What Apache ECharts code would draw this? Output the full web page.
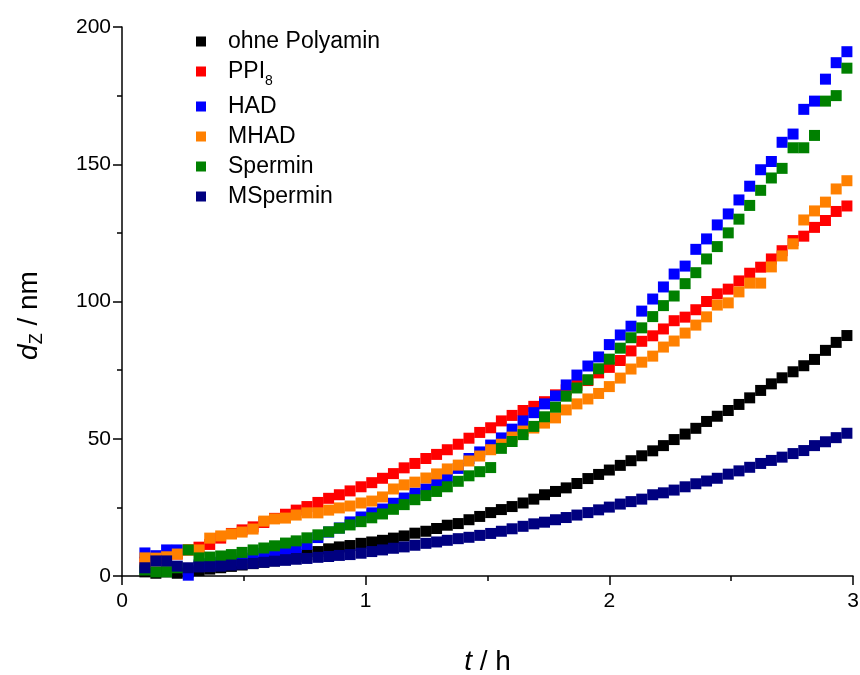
<!DOCTYPE html>
<html><head><meta charset="utf-8">
<script src="https://cdn.jsdelivr.net/npm/echarts@6/dist/echarts.min.js"></script>
<style>html,body{margin:0;padding:0;background:#fff}#c{width:860px;height:675px}</style>
</head><body><div id="c"></div>
<script>
var time = [0.094,0.139,0.183,0.227,0.272,0.316,0.360,0.405,0.449,0.493,0.538,0.582,0.626,0.671,0.715,0.759,0.804,0.848,0.892,0.936,0.981,1.025,1.069,1.114,1.158,1.202,1.247,1.291,1.335,1.380,1.424,1.468,1.513,1.557,1.601,1.646,1.690,1.734,1.779,1.823,1.867,1.912,1.956,2.000,2.045,2.089,2.133,2.178,2.222,2.266,2.311,2.355,2.399,2.443,2.488,2.532,2.576,2.621,2.665,2.709,2.754,2.798,2.842,2.887,2.931,2.975];
var seriesNames = ['ohne Polyamin','PPI8','HAD','MHAD','Spermin','MSpermin'];
var ohnePolyamin = [1.5,1,1.5,1,1.5,2,2.5,3,3.5,4, 4.5,5,5.5,6.2,7,7.8,8.9,9.9,10.6,11.1, 11.9,12.4,13,13.8,14.6,15.6,16.3,17.3,18.5,19.1, 20.5,21.7,23.1,24.2,25.3,26.6,28,29.6,30.8,32.1, 33.7,35.5,37,38.6,40.3,42,43.8,45.6,47.5,49.7, 51.7,53.8,56.3,58.2,60.3,62.5,64.9,67.6,70,72.2, 74.4,76.6,78.9,82.2,85.1,87.6];
var ppi8 = [5,5.5,6.5,8,9.5,10.5,11.5,13.8,15.5,16.8, 17.9,19.5,21,22.5,24,25.3,26.8,28.3,29.6,31, 32.5,34,35.6,37.3,39.4,41,42.8,44.3,46,48, 50.2,52.3,54,56.5,58.5,60.3,61.8,63.5,66,67.8, 69.5,71.2,74,76,78.5,82,85.5,87.5,90,93, 94.3,97,100,102.8,104.5,107.5,110.3,112.5,115.5,118.5, 122.2,123.8,127,129.5,132.8,134.8];
var had = [8.4,7.4,9.5,9.5,0.3,4,4.5,5,5.5,6.5, 7.5,8.3,9,9.8,10.2,11.5,14,16,17.5,19.7, 21.5,23,24.4,26.5,28.4,30.2,31.7,33.9,36,39.2, 42.8,45.2,47.7,50.3,53.5,56.5,59.5,62.7,65.6,69.6, 73.2,76.5,79.8,84.3,87.8,91,96.5,100.9,105.3,110, 112.9,119,122.8,127.9,131.9,137,142,148,151,158, 161,170,173,181,187,191];
var mhad = [6.6,6.5,7,8,9.5,9.5,13.8,14.6,15.3,16, 17.1,20,20.8,21.1,22.2,23,23,24,24.8,25.5, 26.6,27.3,28.8,31.7,33.2,34.2,35.7,37.2,39,40.4, 41.9,43.7,46,48,50.6,52.8,53.9,55.7,57.6,60.5, 62.7,64.5,66.5,69,72.1,75.4,77.9,80.1,83.4,85.6, 88.5,91.4,94.4,98.7,99.5,103.5,106.7,106.7,112.6,116.6, 121,129.7,133,136.2,141,144];
var spermin = [2.2,1.5,1.5,3,9.5,6.6,6.9,7.3,7.8,8.6, 9.5,10.2,11,12,12.8,13.9,15,16.1,17.4,18.6, 19.8,21.2,22.6,24.3,26,27.8,29.3,30.8,32.5,34.5, 36.5,38,39.5,46.5,49,51.5,54.5,58,61.5,65.5, 68.5,71.5,75.5,79,83,86.8,90.4,94.5,98.5,102, 106.5,110.5,115.5,120,125,130,135,140.5,145,148.5, 156,156,160.5,173,175,185];
var mspermin = [3,5.5,5.5,3.6,3,3.3,3.4,3.6,4,4.3, 4.6,5,5.4,5.7,6.1,6.4,6.8,7.1,7.5,7.8, 8.3,8.9,9.5,10.1,10.6,11.2,11.9,12.4,13,13.6, 14.1,14.8,15.5,16.3,17.2,18.1,19,19.6,20.5,21.3, 22.2,23.1,24.1,25.1,26.2,27.1,28,29.6,30.3,31.3, 32.5,33.6,34.6,35.6,37.1,38.3,39.6,41,42.1,43.3, 44.6,45.7,47.5,48.9,50.4,52];
var xTicks = [0,1,2,3];
var yTicks = [0,50,100,150,200];

var colors = ['#000000','#ff0000','#0000ff','#ff8000','#008000','#000080'];
var valueLists = [ohnePolyamin, ppi8, had, mhad, spermin, mspermin];
var FONT = 'Liberation Sans, Arial, Helvetica, sans-serif';

function pairs(vals){ return vals.map(function(v,i){ return [time[i], v]; }); }

var chart = echarts.init(document.getElementById('c'), null, {renderer:'canvas'});
function axisCommon(margin){
  return {
    axisLine:{show:true, onZero:false, lineStyle:{color:'#000', width:1.5}},
    axisTick:{show:true, inside:false, length:9, lineStyle:{color:'#000', width:1.5}},
    minorTick:{show:true, splitNumber:2, length:5, lineStyle:{color:'#000', width:1.5}},
    splitLine:{show:false},
    axisLabel:{color:'#000', fontSize:21, fontFamily:FONT, margin:margin}
  };
}
var option = {
  backgroundColor:'#fff',
  animation:false,
  grid:{left:122, right:7, top:27, bottom:99, containLabel:false, outerBoundsMode:'none'},
  xAxis: Object.assign(axisCommon(15), {
    type:'value', min:xTicks[0], max:xTicks[xTicks.length-1], interval:1,
    name:'{i|t}{n| / h}', nameLocation:'middle', nameGap:72,
    nameTextStyle:{color:'#000', fontFamily:FONT, rich:{
      i:{fontSize:28, fontStyle:'italic', fontFamily:FONT, color:'#000'},
      n:{fontSize:28, fontFamily:FONT, color:'#000'}}}
  }),
  yAxis: Object.assign(axisCommon(11), {
    type:'value', min:yTicks[0], max:yTicks[yTicks.length-1], interval:50,
    name:'{i|d}{s|Z}{n| / nm}', nameLocation:'middle', nameGap:76, nameRotate:90,
    nameTextStyle:{color:'#000', fontFamily:FONT, padding:[0,28,0,0], rich:{
      i:{fontSize:28, fontStyle:'italic', fontFamily:FONT, color:'#000', lineHeight:34, verticalAlign:'middle'},
      s:{fontSize:18, fontFamily:FONT, color:'#000', lineHeight:34, verticalAlign:'bottom'},
      n:{fontSize:28, fontFamily:FONT, color:'#000', lineHeight:34, verticalAlign:'middle'}}}
  }),
  legend:{
    show:true, orient:'vertical', left:191, top:25, itemGap:7,
    icon:'rect', itemWidth:10, itemHeight:10,
    data:seriesNames,
    formatter:function(name){ return name==='PPI8' ? '{n|PPI}{s|8}' : '{n|'+name+'}'; },
    textStyle:{color:'#000', fontFamily:FONT, fontSize:23, padding:[0,0,0,17],
      rich:{
        n:{fontSize:23, fontFamily:FONT, color:'#000', lineHeight:26, verticalAlign:'middle'},
        s:{fontSize:14, fontFamily:FONT, color:'#000', lineHeight:33, verticalAlign:'bottom'}
      }}
  },
  series: seriesNames.map(function(n, k){
    return {name:n, type:'scatter', symbol:'rect', symbolSize:11,
      itemStyle:{color:colors[k], opacity:1}, data:pairs(valueLists[k]), clip:true, z:2+k};
  })
};
chart.setOption(option);
</script></body></html>
